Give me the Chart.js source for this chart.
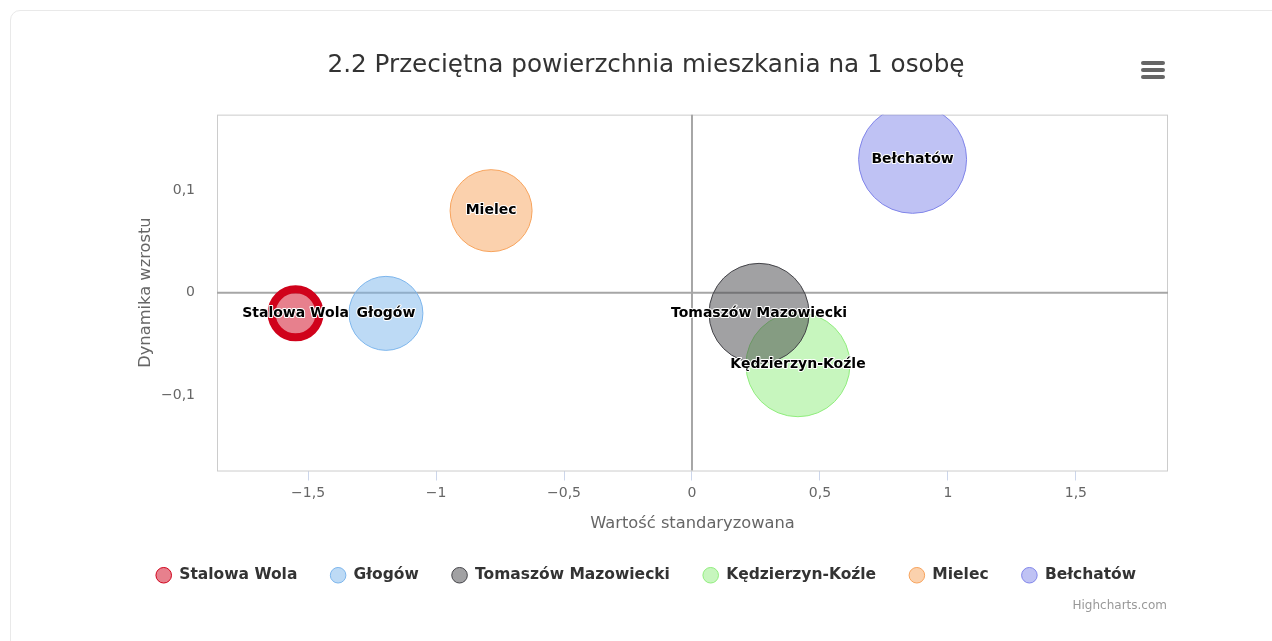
<!DOCTYPE html>
<html lang="pl">
<head>
<meta charset="utf-8">
<title>2.2 Przeciętna powierzchnia mieszkania na 1 osobę</title>
<script src="https://cdn.jsdelivr.net/npm/chart.js@4.4.1/dist/chart.umd.min.js"></script>
<style>
  html, body { margin: 0; padding: 0; background: #fff; }
  body { width: 1272px; height: 641px; position: relative; overflow: hidden; font-family: "DejaVu Sans", sans-serif; }
  .card { position: absolute; left: 10px; top: 10px; width: 1300px; height: 700px; border: 1px solid #e9e9e9; border-radius: 10px; }
  .chart-box { position: absolute; left: 20px; top: 20px; width: 1252px; height: 621px; }
  .menu { position: absolute; left: 1141px; top: 61px; width: 24px; }
  .menu span { display: block; height: 4px; margin-bottom: 3px; background: #666; border-radius: 2px; }
  .credits { position: absolute; right: 105px; top: 598px; font-size: 12px; color: #999; }
</style>
</head>
<body>
<div class="card"></div>
<div class="chart-box"><canvas id="bubbleChart"></canvas></div>
<div class="menu"><span></span><span></span><span></span></div>
<div class="credits">Highcharts.com</div>

<script>
// data
const cities = ['Stalowa Wola', 'Głogów', 'Tomaszów Mazowiecki', 'Kędzierzyn-Koźle', 'Mielec', 'Bełchatów'];
const xValues = [-1.549, -1.196, 0.262, 0.414, -0.785, 0.862];
const yValues = [-0.020, -0.020, -0.020, -0.070, 0.080, 0.130];
const bubbleSize = [24, 37, 50, 52, 41, 54];
const cityColors = ['#d0021b', '#7cb5ec', '#434348', '#90ed7d', '#f7a35c', '#8085e9'];

const xTicks = [-1.5, -1, -0.5, 0, 0.5, 1, 1.5];
const yTicks = [-0.1, 0, 0.1];

const FONT = '"DejaVu Sans", sans-serif';

function fade(hex, a) {
	const n = parseInt(hex.slice(1), 16);
	return 'rgba(' + (n >> 16) + ',' + ((n >> 8) & 255) + ',' + (n & 255) + ',' + a + ')';
}

function fmt(v) {
	return (v < 0 ? '\u2212' : '') + String(Math.abs(v)).replace('.', ',');
}

const datasets = cities.map((name, i) => ({
	label: name,
	data: [{ x: xValues[i], y: yValues[i], r: bubbleSize[i] }],
	backgroundColor: fade(cityColors[i], 0.5),
	borderColor: cityColors[i],
	borderWidth: i === 0 ? 8 : 1
}));

// plot border + zero lines
const plotDecor = {
	id: 'plotDecor',
	beforeDatasetsDraw(chart) {
		const { ctx, chartArea: a, scales } = chart;
		ctx.save();
		ctx.strokeStyle = '#cccccc';
		ctx.lineWidth = 1;
		ctx.strokeRect(a.left + 0.5, a.top + 0.5, a.right - a.left - 1, a.bottom - a.top);
		ctx.strokeStyle = '#a6a6a6';
		ctx.lineWidth = 2;
		const x0 = scales.x.getPixelForValue(0);
		const y0 = scales.y.getPixelForValue(0);
		ctx.beginPath();
		ctx.moveTo(x0, a.top);
		ctx.lineTo(x0, a.bottom);
		ctx.moveTo(a.left, y0);
		ctx.lineTo(a.right, y0);
		ctx.stroke();
		ctx.restore();
	}
};

// city names on the bubbles
const bubbleLabels = {
	id: 'bubbleLabels',
	afterDatasetsDraw(chart) {
		const ctx = chart.ctx;
		ctx.save();
		ctx.font = 'bold 14px ' + FONT;
		ctx.textAlign = 'center';
		ctx.textBaseline = 'middle';
		ctx.lineJoin = 'round';
		chart.data.datasets.forEach((ds, i) => {
			const pt = chart.getDatasetMeta(i).data[0];
			ctx.lineWidth = 2;
			ctx.strokeStyle = '#fff';
			ctx.strokeText(ds.label, pt.x, pt.y);
			ctx.fillStyle = '#000';
			ctx.fillText(ds.label, pt.x, pt.y);
		});
		ctx.restore();
	}
};

const config = {
	type: 'bubble',
	data: { datasets: datasets },
	options: {
		responsive: true,
		maintainAspectRatio: false,
		animation: false,
		events: [],
		layout: { padding: { top: 0, bottom: 48 } },
		scales: {
			x: {
				type: 'linear',
				min: -1.856,
				max: 1.86,
				afterBuildTicks: s => { s.ticks = xTicks.map(v => ({ value: v })); },
				afterFit: s => { s.height = 64; },
				grid: { drawOnChartArea: false, drawTicks: true, tickLength: 10, color: '#ccd6eb' },
				border: { display: false },
				ticks: { color: '#666', padding: 4, font: { family: FONT, size: 14 }, callback: v => fmt(v), maxRotation: 0 },
				title: { display: true, text: 'Wartość standaryzowana', color: '#666', font: { family: FONT, size: 16.3 }, padding: { top: 0, bottom: 1 } }
			},
			y: {
				type: 'linear',
				min: -0.173,
				max: 0.1735,
				afterBuildTicks: s => { s.ticks = yTicks.map(v => ({ value: v })); },
				afterFit: s => { s.width = 197; },
				grid: { display: false, drawTicks: false },
				border: { display: false },
				ticks: { color: '#666', padding: 22, font: { family: FONT, size: 14 }, callback: v => fmt(v) },
				title: { display: true, text: 'Dynamika wzrostu', color: '#666', font: { family: FONT, size: 16.3 }, padding: { top: 116, bottom: 0 } }
			},
			y2: {
				type: 'linear',
				position: 'right',
				display: true,
				afterFit: s => { s.width = 104; },
				grid: { display: false },
				border: { display: false },
				ticks: { display: false }
			}
		},
		plugins: {
			title: {
				display: true,
				text: '2.2 Przeciętna powierzchnia mieszkania na 1 osobę',
				color: '#333',
				font: { family: FONT, size: 24.7, weight: 'normal' },
				padding: { top: 31, bottom: 34 }
			},
			legend: {
				position: 'bottom',
				labels: {
					usePointStyle: true,
					pointStyle: 'circle',
					boxHeight: 11,
					padding: 33,
					color: '#333',
					font: { family: FONT, size: 15.5, weight: 'bold' },
					generateLabels: chart => Chart.defaults.plugins.legend.labels.generateLabels(chart)
						.map(item => Object.assign(item, { lineWidth: 1 }))
				}
			},
			tooltip: { enabled: false }
		}
	},
	plugins: [plotDecor, bubbleLabels]
};

document.addEventListener('DOMContentLoaded', () => {
	const ctx = document.getElementById('bubbleChart').getContext('2d');
	new Chart(ctx, config);
});
</script>
</body>
</html>
